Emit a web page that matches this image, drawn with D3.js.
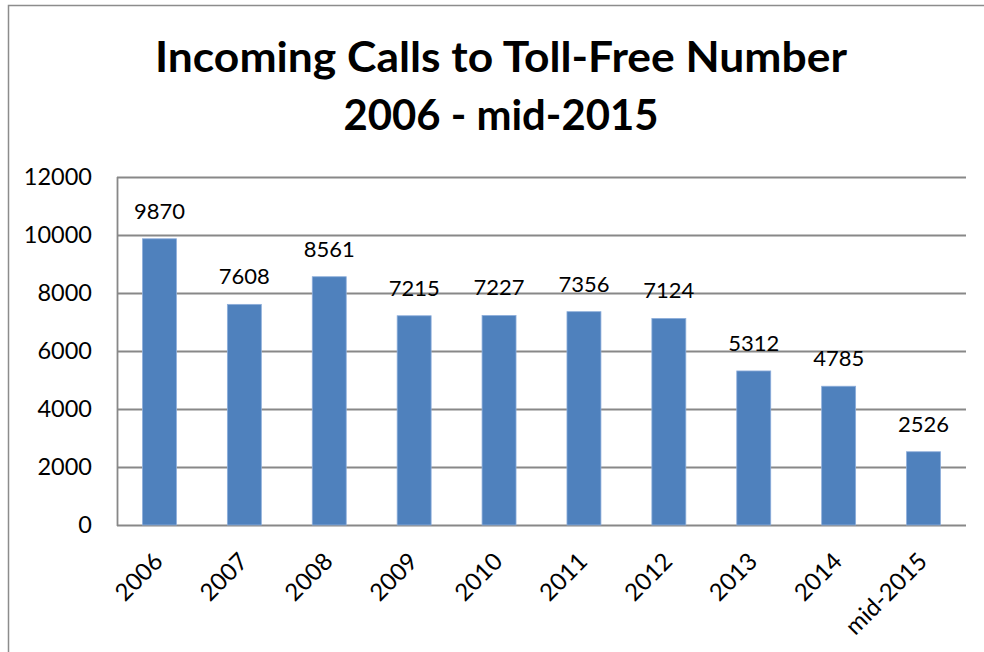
<!DOCTYPE html>
<html lang="en">
<head>
    <meta charset="utf-8">
    <title>Incoming Calls to Toll-Free Number</title>
    <script src="https://d3js.org/d3.v7.min.js"></script>
    <style>
      body { margin: 0; background: white; }
      text { font-family: Lato, 'Open Sans', sans-serif; fill: black; }
    </style>
</head>
<body>
<div id="container-1"></div>
<script type="text/javascript">
// data
const years = ['2006', '2007', '2008', '2009', '2010', '2011', '2012', '2013', '2014', 'mid-2015'];
const calls = [9870, 7608, 8561, 7215, 7227, 7356, 7124, 5312, 4785, 2526];
const yTicks = [0, 2000, 4000, 6000, 8000, 10000, 12000];
const titleLines = ['Incoming Calls to Toll-Free Number', '2006 - mid-2015'];

const width = 984, height = 652;
const margin = { top: 177, right: 18, bottom: 127, left: 117 };

const svg = d3.select('#container-1').append('svg')
    .attr('width', width)
    .attr('height', height);

// outer chart frame (cut off on right and bottom like the screenshot)
svg.append('rect')
    .attr('x', 8.5).attr('y', 5.5)
    .attr('width', 1000).attr('height', 700)
    .style('fill', 'white')
    .style('stroke', '#8c8c8c')
    .style('stroke-width', 1.5);

/* title */
svg.selectAll('.title')
    .data(titleLines)
    .enter().append('text')
    .attr('class', 'title')
    .attr('x', 501)
    .attr('y', (d, i) => 72 + i * 58)
    .attr('text-anchor', 'middle')
    .attr('textLength', (d, i) => i == 0 ? 692 : 315)
    .attr('lengthAdjust', 'spacingAndGlyphs')
    .style('font-size', '42px')
    .style('font-weight', 'bold')
    .text(d => d);

const x = d3.scaleBand()
    .domain(years)
    .range([margin.left, width - margin.right])
    .padding(0);

const y = d3.scaleLinear()
    .domain([0, 12000])
    .range([height - margin.bottom, margin.top]);

const barW = x.bandwidth() * 0.4;

// gridlines
svg.append('g')
    .selectAll('line')
    .data(yTicks)
    .enter().append('line')
    .attr('x1', margin.left)
    .attr('x2', width - margin.right)
    .attr('y1', d => Math.round(y(d)) + 0.5)
    .attr('y2', d => Math.round(y(d)) + 0.5)
    .style('stroke', '#888')
    .style('stroke-width', 1.8);

// y axis line
svg.append('line')
    .attr('x1', margin.left + 0.5).attr('x2', margin.left + 0.5)
    .attr('y1', y(12000)).attr('y2', y(0) + 1)
    .style('stroke', '#888')
    .style('stroke-width', 1.8);

// y tick labels
svg.append('g')
    .selectAll('text')
    .data(yTicks)
    .enter().append('text')
    .attr('x', 92)
    .attr('y', d => y(d))
    .attr('dy', '0.35em')
    .attr('text-anchor', 'end')
    .style('font-size', '23.5px')
    .text(d => d);

/* bars */
svg.append('g')
    .selectAll('rect')
    .data(calls)
    .enter().append('rect')
    .attr('x', (d, i) => x(years[i]) + (x.bandwidth() - barW) / 2)
    .attr('y', d => y(d))
    .attr('width', barW)
    .attr('height', d => y(0) - y(d))
    .style('fill', '#4f81bd')
    .style('stroke', '#8eaedb')
    .style('stroke-width', 0.8);

// value labels
svg.append('g')
    .selectAll('text')
    .data(calls)
    .enter().append('text')
    .attr('x', (d, i) => x(years[i]) + x.bandwidth() / 2)
    .attr('y', d => y(d) - 20)
    .attr('text-anchor', 'middle')
    .style('font-size', '22px')
    .text(d => d);

// x labels, rotated
svg.append('g')
    .selectAll('text')
    .data(years)
    .enter().append('text')
    .attr('transform', d => `translate(${x(d) + x.bandwidth() / 2 + 5},${height - margin.bottom + 38}) rotate(-45)`)
    .attr('text-anchor', 'end')
    .style('font-size', '24px')
    .text(d => d);
</script>
</body>
</html>
